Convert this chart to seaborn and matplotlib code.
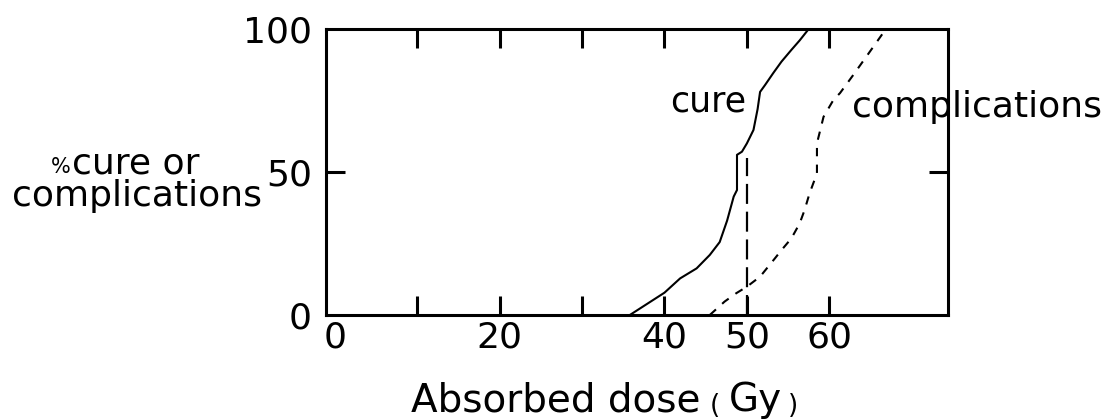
import matplotlib
matplotlib.use("Agg")
import matplotlib.pyplot as plt
import seaborn as sns
import pandas as pd

# ---- data ----
cure_dose = [35.8, 40.0, 41.9, 43.9, 45.5, 46.7, 47.6, 48.4, 48.8, 48.8, 49.4,
             50.0, 50.8, 51.3, 51.6, 52.2, 53.2, 54.2, 55.4, 56.4, 57.5]
cure_pct = [0, 7.8, 12.8, 16.3, 21, 25.5, 33, 41.4, 43.7, 56, 57.1,
            60, 64.7, 72, 78, 80.4, 84.6, 88.6, 92.7, 96, 100]

comp_dose = [45.5, 47.3, 48.7, 50.0, 51.6, 53.4, 54.2, 55.4, 56.4, 57.0,
             57.6, 58.5, 58.5, 59.3, 60.5, 61.3, 62.9, 64.9, 66.5, 67.0]
comp_pct = [0, 4.7, 7.6, 9.9, 13.4, 19.8, 22.7, 26.8, 32, 36.7,
            42.5, 49.5, 60, 69.3, 75.2, 77.6, 83.9, 92, 98.5, 100]

marker_dose = [50, 50]
marker_pct = [0, 55]

x_ticks = [0, 10, 20, 30, 40, 50, 60]
x_tick_labels = ["0", "", "20", "", "40", "50", "60"]
y_ticks = [0, 50, 100]
y_tick_labels = ["0", "50", "100"]

# ---- style ----
sns.set_theme(style="ticks")
plt.rcParams["font.family"] = ["DejaVu Sans"]

W, H = 1109, 419
fig = plt.figure(figsize=(W / 100, H / 100), dpi=100)
L, R, T, B = 325.7, 948, 29, 315
ax = fig.add_axes([L / W, 1 - B / H, (R - L) / W, (B - T) / H])

cure_df = pd.DataFrame({"dose": cure_dose, "pct": cure_pct})
comp_df = pd.DataFrame({"dose": comp_dose, "pct": comp_pct})
mark_df = pd.DataFrame({"dose": marker_dose, "pct": marker_pct})

sns.lineplot(data=cure_df, x="dose", y="pct", sort=False, estimator=None,
             color="black", linewidth=1.5, ax=ax)
sns.lineplot(data=comp_df, x="dose", y="pct", sort=False, estimator=None,
             color="black", linewidth=1.5, ax=ax)
ax.lines[-1].set_dashes((4, 4))
sns.lineplot(data=mark_df, x="dose", y="pct", sort=False, estimator=None,
             color="black", linewidth=1.6, ax=ax)
ax.lines[-1].set_dashes((9, 3.5))

ax.set_xlim(-1.1, 74.4)
ax.set_ylim(0, 100)
ax.set_xlabel("")
ax.set_ylabel("")

for s in ax.spines.values():
    s.set_visible(True)
    s.set_linewidth(2.2)
    s.set_color("black")

ax.set_xticks(x_ticks)
ax.set_xticklabels(x_tick_labels)
ax.set_yticks(y_ticks)
ax.set_yticklabels(y_tick_labels)
ax.tick_params(axis="both", direction="in", length=13.7, width=2.2,
               color="black", labelcolor="black", labelsize=26,
               top=True, right=True)
ax.tick_params(axis="x", pad=4)
ax.tick_params(axis="y", pad=10)
xt = ax.xaxis.get_major_ticks()
xt[0].tick1line.set_visible(False)
xt[0].tick2line.set_visible(False)
for t in (ax.yaxis.get_major_ticks()[0], ax.yaxis.get_major_ticks()[-1]):
    t.tick1line.set_visible(False)
    t.tick2line.set_visible(False)

# curve labels
ax.text(40.7, 71, "cure", fontsize=25, color="black", ha="left", va="baseline")
ax.text(62.7, 69.2, "complications", fontsize=26, color="black",
        ha="left", va="baseline", clip_on=False)


def px(x, y):
    return x / W, 1 - y / H


# y label (two lines)
fig.text(*px(71, 173), "%", fontsize=15, color="black", ha="right", va="baseline")
fig.text(*px(72, 173), "cure or", fontsize=26, color="black", ha="left", va="baseline")
fig.text(*px(137, 206), "complications", fontsize=26, color="black",
         ha="center", va="baseline")

# x label
fig.text(*px(411, 411), "Absorbed dose", fontsize=28, color="black",
         ha="left", va="baseline")
fig.text(*px(710, 413), "(", fontsize=19, color="black", ha="left", va="baseline")
fig.text(*px(729, 411), "Gy", fontsize=28, color="black", ha="left", va="baseline")
fig.text(*px(788, 413), ")", fontsize=19, color="black", ha="left", va="baseline")

fig.savefig("out.png", dpi=100)
